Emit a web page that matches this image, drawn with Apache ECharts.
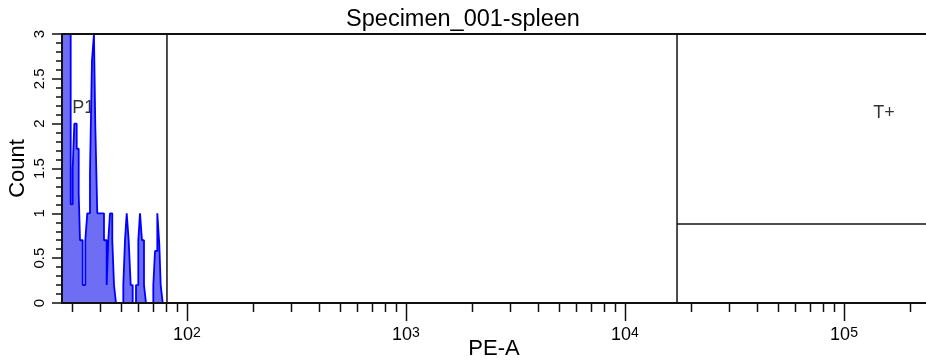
<!DOCTYPE html>
<html>
<head>
<meta charset="utf-8">
<script src="https://cdn.jsdelivr.net/npm/echarts@6/dist/echarts.min.js"></script>
<style>html,body{margin:0;padding:0;background:#fff;}#chart{width:926px;height:360px;}</style>
</head>
<body>
<div id="chart"></div>
<script>
// Histogram bins (PE-A values on log axis) and smoothed counts
const binEdges = [26.87, 29.44, 30.07, 30.58, 31.36, 32.03, 32.47, 33.40, 34.33, 35.05,
  36.06, 36.82, 37.60, 38.12, 38.93, 41.78, 42.98, 43.71, 44.50, 45.59,
  46.42, 47.40, 51.19, 52.11, 53.05, 54.17, 55.32, 56.50, 58.50, 59.93,
  61.01, 62.30, 63.63, 64.98, 70.18, 71.45, 73.19, 74.73, 75.85, 77.45];
const binCounts = [3.5, 1.1, 1.5, 2.0, 1.72, 1.22, 0.7, 0.2, 0.7, 1.0,
  1.45, 2.7, 3.0, 2.0, 1.0, 0.7, 0.2, 0.7, 1.0, 0.7,
  0.2, 0, 0.2, 0.7, 1.0, 0.7, 0.2, 0, 0.2, 0.7,
  1.0, 0.7, 0.2, 0, 0.2, 0.58, 1.0, 0.66, 0.2];

const xRange = [26.87, 236800];
const yRange = [0, 3];
const xMajorTicks = [100, 1000, 10000, 100000];
const xMinorTicks = [30, 40, 50, 60, 70, 80, 90,
  200, 300, 400, 500, 600, 700, 800, 900,
  2000, 3000, 4000, 5000, 6000, 7000, 8000, 9000,
  20000, 30000, 40000, 50000, 60000, 70000, 80000, 90000, 200000];

// Gates
const gateP1 = [26.87, 81.0];
const gateTplus = [17280, 236800];
const gateTplusLevel = 0.88;
const gateNames = ['P1', 'T+'];
const gateLabelPos = [[33.6, 2.17], [152300, 2.12]];

const titleText = 'Specimen_001-spleen';
const xName = 'PE-A';
const yName = 'Count';

const stepData = binCounts.map((c, i) => [binEdges[i], c]).concat([[binEdges[binEdges.length - 1], 0]]);
const tickData = xMajorTicks.map(v => [v, 18]).concat(xMinorTicks.map(v => [v, 9]));

const chart = echarts.init(document.getElementById('chart'), null, {renderer: 'canvas'});
const FONT = "'Liberation Sans', Arial, sans-serif";
const NARROW = "'Liberation Sans Narrow', 'Arial Narrow', 'Liberation Sans', Arial, sans-serif";

chart.setOption({
  animation: false,
  backgroundColor: '#ffffff',
  title: {
    text: titleText, left: 'center', top: 8, padding: 0,
    textStyle: {fontFamily: FONT, fontSize: 23.5, fontWeight: 'normal', color: '#000'}
  },
  grid: {left: 62, right: 0, top: 34, bottom: 57, containLabel: false, outerBoundsMode: 'none'},
  xAxis: [{
    type: 'log', min: xRange[0], max: xRange[1], position: 'bottom', z: 5,
    axisLine: {show: true, lineStyle: {color: '#111', width: 2}},
    axisTick: {show: false}, splitLine: {show: false}, minorTick: {show: false},
    axisLabel: {
      show: true, margin: 23, fontFamily: NARROW, color: '#000',
      showMinLabel: false, showMaxLabel: false,
      formatter: function (v) {
        const l = Math.log10(v), e = Math.round(l);
        if (Math.abs(l - e) > 1e-6) return '';
        return '{b|10}{s|' + e + '}';
      },
      rich: {
        b: {fontFamily: NARROW, fontSize: 18, lineHeight: 18, padding: [8, 0, 0, 0], verticalAlign: 'bottom', color: '#000'},
        s: {fontFamily: NARROW, fontSize: 14, lineHeight: 15, verticalAlign: 'top', color: '#000'}
      }
    },
    name: xName, nameLocation: 'middle', nameGap: 35, nameMoveOverlap: false,
    nameTextStyle: {fontFamily: FONT, fontSize: 22, color: '#000'}
  }, {
    type: 'log', min: xRange[0], max: xRange[1], position: 'top', z: 5,
    axisLine: {show: true, lineStyle: {color: '#111', width: 2}},
    axisTick: {show: false}, axisLabel: {show: false}, splitLine: {show: false}
  }],
  yAxis: [{
    type: 'value', min: yRange[0], max: yRange[1], interval: 0.5, position: 'left', z: 5,
    axisLine: {show: true, lineStyle: {color: '#111', width: 2}},
    axisTick: {show: true, length: 10, lineStyle: {color: '#111', width: 1.5}},
    minorTick: {show: true, splitNumber: 5, length: 6, lineStyle: {color: '#111', width: 1.5}},
    splitLine: {show: false}, minorSplitLine: {show: false},
    axisLabel: {rotate: 90, margin: 15, fontFamily: FONT, fontSize: 15, color: '#000'},
    name: yName, nameLocation: 'middle', nameGap: 33, nameMoveOverlap: false,
    nameTextStyle: {fontFamily: FONT, fontSize: 22, color: '#000'}
  }],
  series: [{
    type: 'line', name: 'hist', step: 'end', symbol: 'none', clip: true,
    data: stepData,
    lineStyle: {color: '#0000ff', width: 1.8},
    areaStyle: {color: '#6e6ef5', opacity: 1}
  }, {
    type: 'custom', name: 'xticks', clip: false, silent: true,
    data: tickData,
    renderItem: function (params, api) {
      const p = api.coord([api.value(0), 0]);
      return {
        type: 'line',
        shape: {x1: Math.round(p[0]) + 0.5, y1: p[1], x2: Math.round(p[0]) + 0.5, y2: p[1] + api.value(1)},
        style: {stroke: '#111', lineWidth: 1.5}
      };
    }
  }, {
    type: 'line', symbol: 'none', silent: true,
    data: [[gateP1[1], yRange[0]], [gateP1[1], yRange[1]]],
    lineStyle: {color: '#111', width: 1.5}
  }, {
    type: 'line', symbol: 'none', silent: true,
    data: [[gateTplus[0], yRange[1]], [gateTplus[0], yRange[0]]],
    lineStyle: {color: '#111', width: 1.5}
  }, {
    type: 'line', symbol: 'none', silent: true,
    data: [[gateTplus[0], gateTplusLevel], [gateTplus[1], gateTplusLevel]],
    lineStyle: {color: '#111', width: 1.5}
  }, {
    type: 'scatter', symbolSize: 0, silent: true,
    data: gateNames.map((n, i) => ({name: n, value: gateLabelPos[i]})),
    label: {show: true, position: 'inside', formatter: '{b}', fontFamily: FONT, fontSize: 18, color: '#000'}
  }]
});
</script>
</body>
</html>
